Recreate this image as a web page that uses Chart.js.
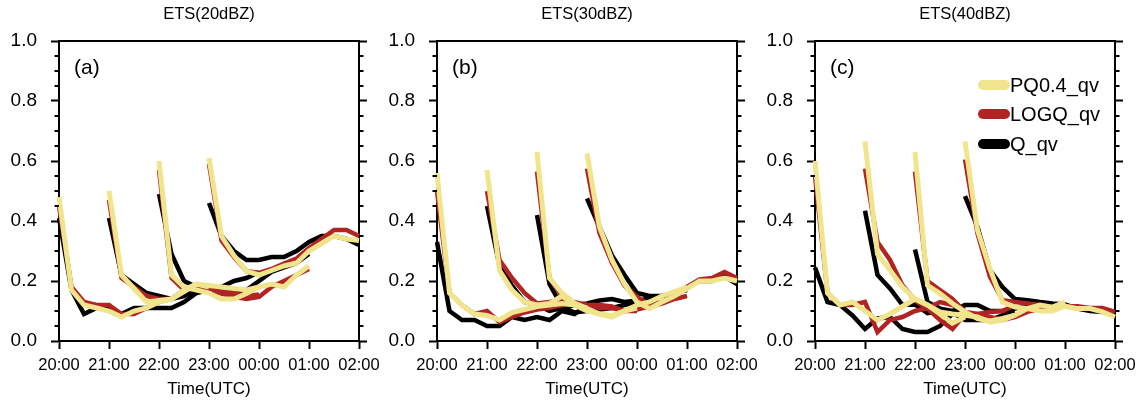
<!DOCTYPE html>
<html><head><meta charset="utf-8">
<script src="https://cdn.jsdelivr.net/npm/chart.js@4.4.1/dist/chart.umd.min.js"></script>
<style>
html,body{margin:0;padding:0;background:#fff;overflow:hidden;}
#wrap{position:relative;width:1147px;height:404px;overflow:hidden;background:#fff;}
canvas{position:absolute;top:0;}
</style></head><body>
<div id="wrap">
<canvas id="ca" width="418" height="404" style="left:0px"></canvas>
<canvas id="cb" width="418" height="404" style="left:378px"></canvas>
<canvas id="cc" width="418" height="404" style="left:756px"></canvas>
</div>
<script>
// ---------- data ----------
const timeLabels = ['20:00','20:15','20:30','20:45','21:00','21:15','21:30','21:45',
  '22:00','22:15','22:30','22:45','23:00','23:15','23:30','23:45',
  '00:00','00:15','00:30','00:45','01:00','01:15','01:30','01:45','02:00'];
const hourTicks = ['20:00','21:00','22:00','23:00','00:00','01:00','02:00'];
const forecastStarts = [0, 4, 8, 12];   // index of each forecast start in timeLabels
const seriesNames = ['PQ0.4_qv', 'LOGQ_qv', 'Q_qv'];
const panelTitles = ['ETS(20dBZ)', 'ETS(30dBZ)', 'ETS(40dBZ)'];
const panelLetters = ['(a)', '(b)', '(c)'];

// Panel (a) ETS 20 dBZ
const a_PQ = [
  [0.48,0.17,0.12,0.11,0.10,0.08,0.10,0.11,0.13,0.14,0.17,0.19,0.18],
  [0.50,0.22,0.175,0.13,0.135,0.14,0.165,0.19,0.185,0.18,0.175,0.17,0.18],
  [0.60,0.22,0.18,0.17,0.16,0.14,0.14,0.158,0.18,0.19,0.18,0.22,0.25],
  [0.61,0.35,0.285,0.233,0.22,0.235,0.25,0.26,0.30,0.325,0.35,0.34,0.335]
];
const a_LOGQ = [
  [0.45,0.18,0.13,0.12,0.12,0.09,0.09,0.11,0.13,0.14,0.17,0.18,0.175],
  [0.47,0.21,0.18,0.15,0.14,0.14,0.17,0.175,0.17,0.165,0.16,0.15,0.155],
  [0.57,0.21,0.17,0.175,0.174,0.158,0.147,0.14,0.147,0.18,0.20,0.22,0.24],
  [0.59,0.335,0.28,0.233,0.227,0.24,0.258,0.275,0.31,0.34,0.37,0.37,0.35]
];
const a_Q = [
  [0.41,0.17,0.09,0.11,0.11,0.09,0.11,0.11,0.11,0.11,0.13,0.16,0.17],
  [0.41,0.22,0.19,0.16,0.15,0.14,0.15,0.17,0.165,0.18,0.20,0.21,0.23],
  [0.49,0.29,0.20,0.18,0.17,0.16,0.165,0.17,0.20,0.23,0.245,0.26,0.29],
  [0.46,0.35,0.30,0.27,0.27,0.28,0.28,0.30,0.33,0.35,0.35,0.34,0.32]
];

// Panel (b) ETS 30 dBZ
const b_PQ = [
  [0.56,0.16,0.12,0.09,0.085,0.07,0.095,0.105,0.115,0.12,0.125,0.12,0.11],
  [0.57,0.235,0.17,0.13,0.12,0.125,0.15,0.12,0.10,0.09,0.085,0.10,0.11],
  [0.63,0.21,0.16,0.127,0.108,0.09,0.08,0.10,0.12,0.13,0.15,0.165,0.18],
  [0.625,0.38,0.27,0.19,0.13,0.108,0.13,0.15,0.175,0.20,0.20,0.21,0.20]
];
const b_LOGQ = [
  [0.50,0.16,0.12,0.09,0.10,0.063,0.08,0.095,0.105,0.11,0.12,0.13,0.12],
  [0.50,0.27,0.21,0.16,0.125,0.13,0.14,0.125,0.12,0.11,0.11,0.10,0.10],
  [0.565,0.21,0.15,0.125,0.12,0.12,0.115,0.10,0.105,0.115,0.125,0.14,0.15],
  [0.575,0.36,0.26,0.185,0.147,0.12,0.13,0.15,0.18,0.205,0.21,0.23,0.21]
];
const b_Q = [
  [0.33,0.10,0.07,0.07,0.05,0.05,0.08,0.07,0.08,0.07,0.10,0.09,0.12],
  [0.45,0.25,0.185,0.13,0.12,0.10,0.11,0.12,0.125,0.135,0.14,0.13,0.135],
  [0.42,0.19,0.115,0.095,0.10,0.105,0.11,0.12,0.13,0.145,0.15,0.16,0.17],
  [0.475,0.38,0.285,0.22,0.16,0.15,0.15,0.16,0.18,0.20,0.20,0.215,0.19]
];

// Panel (c) ETS 40 dBZ
const c_PQ = [
  [0.60,0.16,0.12,0.13,0.10,0.07,0.09,0.115,0.14,0.12,0.09,0.06,0.08],
  [0.665,0.29,0.236,0.18,0.14,0.12,0.097,0.09,0.086,0.08,0.063,0.07,0.086],
  [0.63,0.186,0.158,0.125,0.097,0.075,0.067,0.075,0.086,0.108,0.12,0.113,0.13],
  [0.665,0.37,0.24,0.13,0.113,0.108,0.10,0.10,0.116,0.108,0.108,0.097,0.08]
];
const c_LOGQ = [
  [0.55,0.16,0.12,0.12,0.13,0.03,0.07,0.08,0.10,0.11,0.13,0.12,0.10],
  [0.575,0.33,0.27,0.186,0.136,0.108,0.07,0.04,0.09,0.09,0.097,0.10,0.12],
  [0.565,0.20,0.17,0.14,0.097,0.09,0.08,0.07,0.08,0.097,0.108,0.11,0.12],
  [0.605,0.358,0.214,0.136,0.13,0.125,0.12,0.113,0.116,0.116,0.11,0.11,0.097]
];
const c_Q = [
  [0.245,0.13,0.12,0.085,0.04,0.075,0.08,0.04,0.03,0.03,0.05,0.09,0.12],
  [0.434,0.22,0.175,0.12,0.122,0.093,0.10,0.095,0.07,0.07,0.07,0.085,0.097],
  [0.305,0.13,0.108,0.10,0.12,0.12,0.10,0.10,0.108,0.12,0.125,0.12,0.116],
  [0.483,0.38,0.236,0.18,0.14,0.136,0.13,0.125,0.122,0.108,0.10,0.097,0.09]
];

// ---------- styles ----------
const FONT = '"Liberation Sans", Arial, Helvetica, sans-serif';
const seriesColors = ['rgb(240,228,140)', 'rgb(178,36,36)', '#000000'];
const seriesWidths = [5, 4.5, 4.5];

Chart.defaults.font.family = FONT;
Chart.defaults.color = '#000';

function buildDatasets(panelSeries) {
  const ds = [];
  panelSeries.forEach((forecasts, s) => {
    forecasts.forEach((vals, f) => {
      const data = timeLabels.map(() => null);
      vals.forEach((v, i) => { data[forecastStarts[f] + i] = v; });
      ds.push({
        label: seriesNames[s], data,
        borderColor: seriesColors[s], backgroundColor: seriesColors[s],
        borderWidth: seriesWidths[s], pointRadius: 0, pointHoverRadius: 0,
        fill: false, tension: 0, spanGaps: false, borderJoinStyle: 'miter', borderCapStyle: 'butt'
      });
    });
  });
  return ds;
}

const decorPlugin = {
  id: 'decor',
  afterDraw(chart, args, opts) {
    const ctx = chart.ctx;
    const {left, right, top} = chart.chartArea;
    const y = chart.scales.y;
    ctx.save();
    ctx.strokeStyle = '#000';
    ctx.lineWidth = 2;
    ctx.lineCap = 'butt';
    // top frame line
    ctx.beginPath(); ctx.moveTo(left, top); ctx.lineTo(right, top); ctx.stroke();
    // minor ticks (4 subdivisions of each major interval)
    const tv = y.ticks.map(t => t.value);
    ctx.beginPath();
    for (let i = 0; i < tv.length - 1; i++) {
      for (let j = 1; j < 4; j++) {
        const py = Math.round(y.getPixelForValue(tv[i] + (tv[i + 1] - tv[i]) * j / 4));
        ctx.moveTo(left - 4.5, py); ctx.lineTo(left, py);
        ctx.moveTo(right, py); ctx.lineTo(right + 4.5, py);
      }
    }
    ctx.stroke();
    // panel letter
    ctx.fillStyle = '#000';
    ctx.font = '21px ' + FONT;
    ctx.textAlign = 'left';
    ctx.textBaseline = 'alphabetic';
    ctx.fillText(opts.letter, left + 15, top + 33);
    // legend
    if (opts.legend) {
      const rows = [44, 73, 103];
      seriesNames.forEach((name, i) => {
        const cy = top + rows[i];
        ctx.strokeStyle = seriesColors[i];
        ctx.lineWidth = 10;
        ctx.lineCap = 'round';
        ctx.beginPath(); ctx.moveTo(left + 168, cy); ctx.lineTo(left + 190, cy); ctx.stroke();
        ctx.fillStyle = '#000';
        ctx.font = '20px ' + FONT;
        ctx.fillText(name, left + 195, cy + 7);
      });
    }
    ctx.restore();
  }
};

function makePanel(id, idx, series, legend) {
  const gridCommon = {
    drawOnChartArea: false, drawTicks: true, tickLength: 8, tickWidth: 2, tickColor: '#000'
  };
  const border = {display: true, color: '#000', width: 2};
  return new Chart(document.getElementById(id), {
    type: 'line',
    data: {labels: timeLabels, datasets: buildDatasets(series)},
    options: {
      responsive: false, animation: false, devicePixelRatio: 1,
      layout: {padding: 0},
      events: [],
      plugins: {
        legend: {display: false},
        tooltip: {enabled: false},
        title: {
          display: true, text: panelTitles[idx], color: '#000',
          font: {family: FONT, size: 16.5, weight: 'normal', lineHeight: 1.2},
          padding: {top: 4.5, bottom: 16.7}
        },
        decor: {letter: panelLetters[idx], legend: legend}
      },
      scales: {
        x: {
          type: 'category', offset: false,
          grid: Object.assign({}, gridCommon, {
            tickColor: (c) => (c.index % 4 === 0 ? '#000' : 'rgba(0,0,0,0)')
          }),
          border: border,
          ticks: {
            autoSkip: false, maxRotation: 0, minRotation: 0, padding: 7, color: '#000',
            font: {family: FONT, size: 16.5},
            callback: function (val) {
              const lab = this.getLabelForValue(val);
              return hourTicks.includes(lab) ? lab : '';
            }
          },
          title: {display: true, text: 'Time(UTC)', color: '#000',
            font: {family: FONT, size: 17}, padding: {top: 0, bottom: 4}},
          afterFit: (s) => { s.height = 63; }
        },
        y: {
          position: 'left', min: 0, max: 1,
          grid: gridCommon, border: border,
          ticks: {stepSize: 0.2, padding: 14, color: '#000', font: {family: FONT, size: 19},
            callback: (v) => Number(v).toFixed(1)},
          afterFit: (s) => { s.width = 59; }
        },
        y2: {
          position: 'right', min: 0, max: 1,
          grid: gridCommon, border: border,
          ticks: {stepSize: 0.2, display: false},
          afterFit: (s) => { s.width = 59; }
        }
      }
    },
    plugins: [decorPlugin]
  });
}

makePanel('ca', 0, [a_PQ, a_LOGQ, a_Q], false);
makePanel('cb', 1, [b_PQ, b_LOGQ, b_Q], false);
makePanel('cc', 2, [c_PQ, c_LOGQ, c_Q], true);
</script>
</body></html>
